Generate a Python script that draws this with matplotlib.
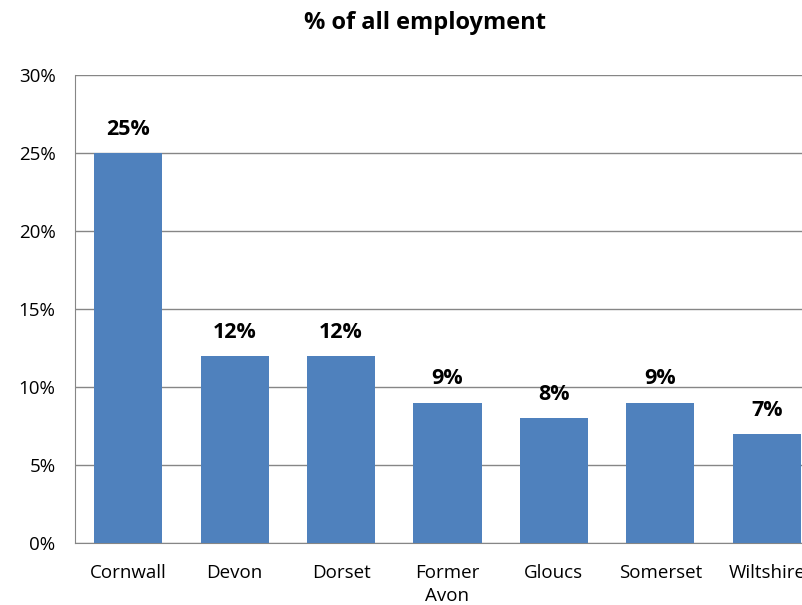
import matplotlib.pyplot as plt
from matplotlib.ticker import FuncFormatter

areas = ['Cornwall', 'Devon', 'Dorset', 'Former\nAvon', 'Gloucs', 'Somerset', 'Wiltshire']
share = [25, 12, 12, 9, 8, 9, 7]

plt.rcParams['font.family'] = ['Open Sans', 'DejaVu Sans']

fig = plt.figure(figsize=(8.02, 6.05), dpi=100)
# plot area runs past the right edge, as in the original
ax = fig.add_axes([75/802, 62/605, 745/802, 468/605])

x = range(len(areas))
ax.bar(x, share, width=0.64, color='#4F81BD', zorder=3)
for i, v in zip(x, share):
    ax.text(i, v + 0.85, f'{v}%', ha='center', va='bottom',
            fontsize=15.5, fontweight='bold')

ax.set_xlim(-0.5, len(areas) - 0.5)
ax.set_ylim(0, 30)
ax.set_yticks(range(0, 31, 5))
ax.yaxis.set_major_formatter(FuncFormatter(lambda v, p: f'{v:.0f}%'))
ax.set_xticks(list(x))
ax.set_xticklabels(areas, linespacing=1.4)
ax.tick_params(length=0, labelsize=13.5)
ax.tick_params(axis='x', pad=15)
ax.tick_params(axis='y', pad=14)
ax.grid(axis='y', color='#868686', linewidth=1, zorder=0)
for s in ['left', 'bottom']:
    ax.spines[s].set_color('#868686')
ax.spines['top'].set_visible(False)
ax.spines['right'].set_visible(False)

fig.text(425/802, 1 - 23/605, '% of all employment', ha='center', va='center',
         fontsize=17, fontweight='bold')

fig.savefig('out.png', dpi=100)
